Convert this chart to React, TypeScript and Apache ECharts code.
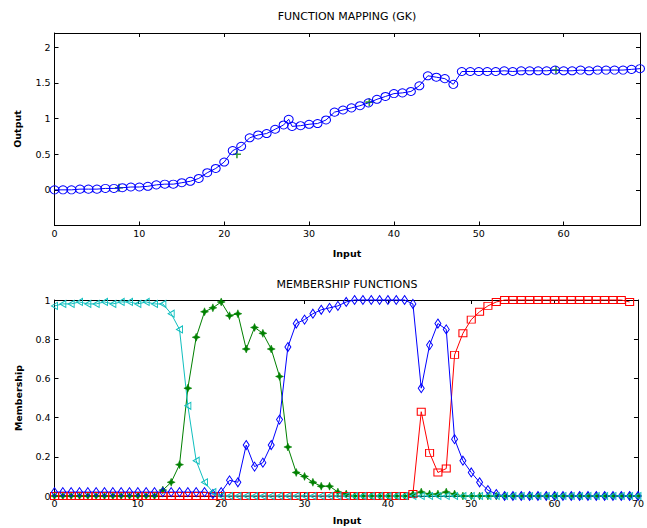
import React, { useEffect, useRef } from "react";
import * as echarts from "echarts";

// ---------- Data: top plot (function mapping) ----------
const topInput = [0, 1, 2, 3, 4, 5, 6, 7, 8, 9, 10, 11, 12, 13, 14, 15, 16, 17, 18, 19, 20, 21, 22, 23, 24, 25, 26, 27, 27.6, 28, 29, 30, 31, 32, 33, 34, 35, 36, 37, 38, 39, 40, 41, 42, 43, 44, 45, 46, 47, 48, 49, 50, 51, 52, 53, 54, 55, 56, 57, 58, 59, 60, 61, 62, 63, 64, 65, 66, 67, 68, 69];
const topOutput = [0.0, 0.0, 0.0, 0.01, 0.01, 0.01, 0.02, 0.02, 0.03, 0.04, 0.04, 0.05, 0.07, 0.08, 0.08, 0.1, 0.12, 0.16, 0.24, 0.3, 0.39, 0.55, 0.61, 0.73, 0.77, 0.79, 0.85, 0.91, 0.99, 0.89, 0.9, 0.92, 0.93, 0.98, 1.09, 1.12, 1.15, 1.18, 1.22, 1.27, 1.31, 1.35, 1.36, 1.38, 1.46, 1.6, 1.58, 1.56, 1.48, 1.66, 1.66, 1.66, 1.66, 1.66, 1.67, 1.66, 1.67, 1.67, 1.67, 1.67, 1.68, 1.67, 1.67, 1.68, 1.67, 1.68, 1.68, 1.68, 1.68, 1.69, 1.7];
const centerInput = [7.6, 21.5, 37.1, 59.1];
const centerOutput = [0.03, 0.5, 1.23, 1.68];
const topXTicks = [0, 10, 20, 30, 40, 50, 60];
const topYTicks = [0, 0.5, 1, 1.5, 2];

// ---------- Data: bottom plot (membership functions) ----------
const mfInput = [0, 1, 2, 3, 4, 5, 6, 7, 8, 9, 10, 11, 12, 13, 14, 15, 16, 17, 18, 19, 20, 21, 22, 23, 24, 25, 26, 27, 28, 29, 30, 31, 32, 33, 34, 35, 36, 37, 38, 39, 40, 41, 42, 43, 44, 45, 46, 47, 48, 49, 50, 51, 52, 53, 54, 55, 56, 57, 58, 59, 60, 61, 62, 63, 64, 65, 66, 67, 68, 69, 70];
const mfCyan = [0.97, 0.98, 0.98, 0.99, 0.98, 0.98, 0.99, 0.98, 0.99, 0.99, 0.98, 0.99, 0.98, 0.98, 0.93, 0.85, 0.46, 0.18, 0.07, 0.02, 0, 0, 0, 0, 0, 0, 0, 0, 0, 0, 0, 0, 0, 0, 0, 0, 0, 0, 0, 0, 0, 0, 0, 0, 0, 0, 0, 0, 0, 0, 0, 0, 0, 0, 0, 0, 0, 0, 0, 0, 0, 0, 0, 0, 0, 0, 0, 0, 0, 0, 0];
const mfGreen = [0, 0, 0, 0, 0, 0, 0, 0, 0, 0, 0, 0, 0, 0.03, 0.07, 0.16, 0.55, 0.81, 0.94, 0.96, 0.99, 0.92, 0.93, 0.75, 0.86, 0.83, 0.75, 0.61, 0.25, 0.12, 0.1, 0.07, 0.05, 0.05, 0.02, 0.01, 0, 0, 0, 0, 0, 0, 0, 0.01, 0.02, 0.01, 0.01, 0.02, 0.01, 0, 0, 0, 0, 0, 0, 0, 0, 0, 0, 0, 0, 0, 0, 0, 0, 0, 0, 0, 0, 0, 0];
const mfBlue = [0.02, 0.02, 0.02, 0.02, 0.02, 0.02, 0.02, 0.02, 0.02, 0.02, 0.02, 0.02, 0.02, 0.02, 0.02, 0.02, 0.02, 0.02, 0.02, 0.01, 0.02, 0.08, 0.07, 0.26, 0.15, 0.17, 0.26, 0.39, 0.76, 0.88, 0.9, 0.93, 0.95, 0.96, 0.97, 0.99, 1, 1, 1, 1, 1, 1, 1, 0.98, 0.55, 0.77, 0.88, 0.85, 0.29, 0.18, 0.12, 0.07, 0.03, 0.01, 0, 0, 0, 0, 0, 0, 0, 0, 0, 0, 0, 0, 0, 0, 0, 0, 0];
const mfRed = [0, 0, 0, 0, 0, 0, 0, 0, 0, 0, 0, 0, 0, 0, 0, 0, 0, 0, 0, 0, 0, 0, 0, 0, 0, 0, 0, 0, 0, 0, 0, 0, 0, 0, 0, 0, 0, 0, 0, 0, 0, 0, 0, 0.01, 0.43, 0.22, 0.12, 0.14, 0.72, 0.83, 0.9, 0.94, 0.97, 0.99, 1, 1, 1, 1, 1, 1, 1, 1, 1, 1, 1, 1, 1, 1, 1, 0.99];
const mfXTicks = [0, 10, 20, 30, 40, 50, 60, 70];
const mfYTicks = [0, 0.2, 0.4, 0.6, 0.8, 1];

const zip = (xs: number[], ys: number[]) => xs.map((x, i) => [x, ys[i]]);

const FONT = "DejaVu Sans";
const BLACK = "#000000";

const tickFmt = (ticks: number[]) => (v: number) =>
  ticks.some((t) => Math.abs(t - v) < 1e-6) ? String(Math.round(v * 10) / 10) : "";

function axisPair(gridIndex: number, min: number, max: number, interval: number, ticks: number[], labelMargin: number) {
  return [
    {
      type: "value",
      gridIndex,
      position: "bottom",
      min,
      max,
      interval,
      axisLine: { show: true, onZero: false, lineStyle: { color: BLACK, width: 1 } },
      axisTick: { show: true, inside: true, length: 4, lineStyle: { color: BLACK } },
      axisLabel: { show: true, margin: labelMargin, color: BLACK, fontFamily: FONT, fontSize: 9.5, formatter: tickFmt(ticks), showMaxLabel: true },
      splitLine: { show: false },
    },
    {
      type: "value",
      gridIndex,
      position: "top",
      min,
      max,
      interval,
      axisLine: { show: true, onZero: false, lineStyle: { color: BLACK, width: 1 } },
      axisTick: { show: true, inside: true, length: 4, lineStyle: { color: BLACK } },
      axisLabel: { show: false },
      splitLine: { show: false },
    },
  ];
}

function yAxisPair(gridIndex: number, min: number, max: number, interval: number, ticks: number[]) {
  return [
    {
      type: "value",
      gridIndex,
      position: "left",
      min,
      max,
      interval,
      axisLine: { show: true, onZero: false, lineStyle: { color: BLACK, width: 1 } },
      axisTick: { show: true, inside: true, length: 4, lineStyle: { color: BLACK } },
      axisLabel: { show: true, margin: 4, color: BLACK, fontFamily: FONT, fontSize: 9.5, formatter: tickFmt(ticks) },
      splitLine: { show: false },
    },
    {
      type: "value",
      gridIndex,
      position: "right",
      min,
      max,
      interval,
      axisLine: { show: true, onZero: false, lineStyle: { color: BLACK, width: 1 } },
      axisTick: { show: true, inside: true, length: 4, lineStyle: { color: BLACK } },
      axisLabel: { show: false },
      splitLine: { show: false },
    },
  ];
}

const STAR = "path://M0,-10 L3,-3 L10,0 L3,3 L0,10 L-3,3 L-10,0 L-3,-3 Z";
const TRI_LEFT = "path://M0,5 L10,0 L10,10 Z";
const PLUS = "path://M4,0 L6,0 L6,4 L10,4 L10,6 L6,6 L6,10 L4,10 L4,6 L0,6 L0,4 L4,4 Z";

function lineSeries(xi: number, yi: number, data: number[][], color: string, symbol: string, size: any, filled: boolean) {
  return {
    type: "line",
    xAxisIndex: xi,
    yAxisIndex: yi,
    data,
    symbol,
    symbolSize: size,
    showSymbol: true,
    showAllSymbol: true,
    clip: false,
    lineStyle: { color, width: 1 },
    itemStyle: filled
      ? { color, borderColor: color, borderWidth: 0.5 }
      : { color: "rgba(0,0,0,0)", borderColor: color, borderWidth: 1 },
    emphasis: { disabled: true },
  };
}

export default function App() {
  const ref = useRef<HTMLDivElement>(null);
  useEffect(() => {
    if (!ref.current) return;
    const chart = echarts.init(ref.current, undefined, { renderer: "svg" });
    const textStyle = (text: string, size: number, weight: string = "normal") => ({
      text,
      fill: BLACK,
      font: `${weight} ${size}px "${FONT}"`,
      align: "center",
      verticalAlign: "middle",
    });
    chart.setOption({
      animation: false,
      backgroundColor: "#ffffff",
      grid: [
        { left: 54.5, top: 33, width: 585.5, height: 192.5 },
        { left: 54.5, top: 300, width: 584.5, height: 196 },
      ],
      xAxis: [
        ...axisPair(0, 0, 69, 10, topXTicks, 3),
        ...axisPair(1, 0, 70, 10, mfXTicks, 2.5),
      ],
      yAxis: [
        ...yAxisPair(0, -0.5, 2.2, 0.5, topYTicks),
        ...yAxisPair(1, 0, 1, 0.2, mfYTicks),
      ],
      graphic: [
        { type: "text", x: 347, y: 16, style: textStyle("FUNCTION MAPPING (GK)", 11) },
        { type: "text", x: 347, y: 284, style: textStyle("MEMBERSHIP FUNCTIONS", 11) },
        { type: "text", x: 347, y: 253, style: textStyle("Input", 9.5, "bold") },
        { type: "text", x: 347, y: 520, style: textStyle("Input", 9.5, "bold") },
        { type: "text", x: 17, y: 129, rotation: Math.PI / 2, style: textStyle("Output", 9.5, "bold") },
        { type: "text", x: 18, y: 398, rotation: Math.PI / 2, style: textStyle("Membership", 9.5, "bold") },
      ],
      series: [
        lineSeries(0, 0, zip(topInput, topOutput), "#0000ff", "circle", [9, 8], false),
        {
          type: "scatter",
          xAxisIndex: 0,
          yAxisIndex: 0,
          data: zip(centerInput, centerOutput),
          symbol: PLUS,
          symbolSize: 8,
          itemStyle: { color: "#008000" },
          emphasis: { disabled: true },
        },
        lineSeries(2, 2, zip(mfInput, mfGreen), "#008000", STAR, 8, true),
        lineSeries(2, 2, zip(mfInput, mfRed), "#ff0000", "rect", [8, 7], false),
        lineSeries(2, 2, zip(mfInput, mfBlue), "#0000ff", "diamond", [6, 9], false),
        lineSeries(2, 2, zip(mfInput, mfCyan), "#10bfbf", TRI_LEFT, [6, 7], false),
      ],
    });
    return () => chart.dispose();
  }, []);
  return (
    <div
      ref={ref}
      style={{ position: "fixed", left: 0, top: 0, width: 647, height: 528, background: "#fff" }}
    />
  );
}
